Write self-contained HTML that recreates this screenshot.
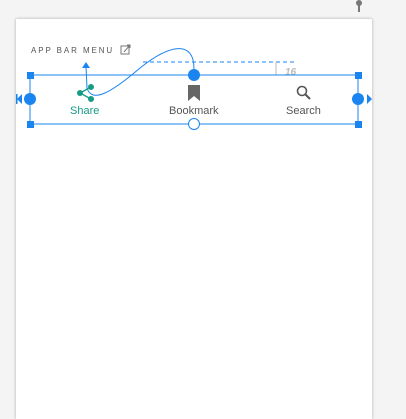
<!DOCTYPE html>
<html><head><style>
body{margin:0;width:406px;height:411px;background:#f4f4f4;position:relative;overflow:hidden;font-family:"Liberation Sans",Roboto,sans-serif}
.card{position:absolute;left:16px;top:19px;width:356px;height:400px;background:#fff;box-shadow:0 0 3px rgba(0,0,0,.3)}
.t{position:absolute;font-size:11px;color:#666}
</style></head><body>
<div class="card"></div>
<div class="t" style="left:31px;top:46px;font-size:8px;letter-spacing:1.9px;color:#555">APP BAR MENU</div>
<div class="t" style="left:70px;top:105px;color:#179c86">Share</div>
<div class="t" style="left:169px;top:105px;color:#555">Bookmark</div>
<div class="t" style="left:286px;top:105px;color:#555">Search</div>
<svg width="406" height="411" style="position:absolute;left:0;top:0">
<g fill="#777">
<circle cx="359" cy="3" r="3"/><rect x="358" y="5" width="2" height="7"/>
</g>
<rect x="121" y="46" width="8" height="8" fill="none" stroke="#777" stroke-width="1"/>
<path d="M124 52 L130 45 M127 45 H130 V48" stroke="#777" fill="none"/>
<line x1="143" y1="62" x2="297" y2="62" stroke="#1a84f0" stroke-dasharray="4,3"/>
<line x1="276" y1="62" x2="276" y2="75" stroke="#bbb"/>
<line x1="270" y1="75" x2="282" y2="75" stroke="#bbb"/>
<text x="285" y="75" font-size="10" font-style="italic" font-weight="bold" fill="#bbb" font-family="Liberation Sans">16</text>
<rect x="30" y="75" width="328" height="49" fill="none" stroke="#1a84f0"/>
<g fill="#1a84f0">
<rect x="27" y="72" width="7" height="7"/><rect x="355" y="72" width="7" height="7"/>
<rect x="27" y="121" width="7" height="7"/><rect x="355" y="121" width="7" height="7"/>
<circle cx="30" cy="99" r="6"/><circle cx="358" cy="99" r="6"/><circle cx="194" cy="75" r="6"/>
<path d="M22 94 L17 99 L22 104 Z"/><rect x="16" y="94" width="1.5" height="10"/>
<path d="M367 94 L372 99 L367 104 Z"/>
<path d="M82 68 L86 62 L90 68 Z"/>
</g>
<circle cx="194" cy="124" r="5.5" fill="#fff" stroke="#1a84f0"/>
<path d="M194 69 C194 40 170 44 140 68 C112 92 92 104 87 88 L86 67" fill="none" stroke="#1a84f0" stroke-width="1"/>
<g fill="#179c86" stroke="#179c86"><circle cx="91" cy="87" r="2.5"/><circle cx="80" cy="93" r="2.5"/><circle cx="91" cy="99" r="2.5"/><path d="M91 87 L80 93 L91 99" fill="none" stroke-width="1.3"/></g>
<path d="M188 85 H200 V101 L194 96 L188 101 Z" fill="#666"/>
<circle cx="302" cy="91" r="4.5" fill="none" stroke="#555" stroke-width="1.6"/>
<line x1="305" y1="94" x2="310" y2="99" stroke="#555" stroke-width="2"/>
</svg>
</body></html>
